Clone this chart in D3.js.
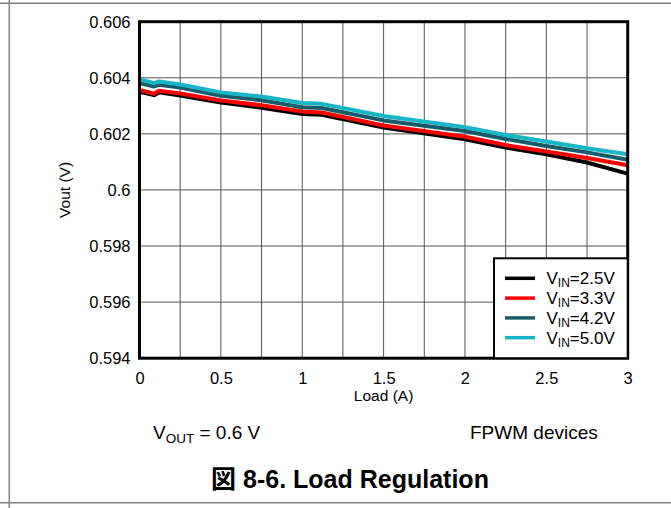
<!DOCTYPE html>
<html>
<head>
<meta charset="utf-8">
<script src="https://cdn.jsdelivr.net/npm/d3@7"></script>
<style>
  html, body { margin: 0; padding: 0; background: #fff; }
  svg { display: block; }
  text { font-family: "Liberation Sans", Arial, sans-serif; fill: #000; }
</style>
</head>
<body>
<svg id="chart" width="671" height="508"></svg>
<script>
// ---- data ----
const load = [0.0, 0.09, 0.12, 0.25, 0.5, 0.75, 1.0, 1.12, 1.5, 2.0, 2.25, 2.5, 2.75, 3.0];
const vin25 = [0.60350, 0.60338, 0.60348, 0.60337, 0.60312, 0.60293, 0.60271, 0.60268, 0.60223, 0.60181, 0.60151, 0.60127, 0.60098, 0.60058];
const vin33 = [0.60357, 0.60343, 0.60354, 0.60344, 0.60319, 0.60302, 0.60280, 0.60276, 0.60230, 0.60190, 0.60160, 0.60137, 0.60114, 0.60088];
const vin42 = [0.60381, 0.60369, 0.60375, 0.60365, 0.60336, 0.60320, 0.60295, 0.60292, 0.60248, 0.60210, 0.60182, 0.60157, 0.60134, 0.60108];
const vin50 = [0.60395, 0.60381, 0.60387, 0.60376, 0.60348, 0.60333, 0.60310, 0.60307, 0.60264, 0.60224, 0.60196, 0.60173, 0.60149, 0.60127];
const seriesNames = ["2.5V", "3.3V", "4.2V", "5.0V"];
const xTicks = [0, 0.5, 1, 1.5, 2, 2.5, 3];
const xTickLabels = ["0", "0.5", "1", "1.5", "2", "2.5", "3"];
const yTicks = [0.594, 0.596, 0.598, 0.6, 0.602, 0.604, 0.606];
const yTickLabels = ["0.594", "0.596", "0.598", "0.6", "0.602", "0.604", "0.606"];
const xGrid = d3.range(0, 3.0001, 0.25);

const series = [
  { name: seriesNames[0], values: vin25, color: "#000000" },
  { name: seriesNames[1], values: vin33, color: "#ff0000" },
  { name: seriesNames[2], values: vin42, color: "#175a68" },
  { name: seriesNames[3], values: vin50, color: "#17b6c6" }
];

// ---- layout ----
const svg = d3.select("#chart");
const L = 139.5, R = 627.7, T = 21.7, B = 358.2;
const x = d3.scaleLinear().domain([0, 3]).range([L, R]);
const y = d3.scaleLinear().domain([0.594, 0.606]).range([B, T]);

// outer frame
svg.append("line").attr("x1", 0).attr("x2", 671).attr("y1", 3.3).attr("y2", 3.3)
  .attr("stroke", "#808080").attr("stroke-width", 1.5);
svg.append("line").attr("x1", 0).attr("x2", 671).attr("y1", 502.7).attr("y2", 502.7)
  .attr("stroke", "#808080").attr("stroke-width", 1.5);
svg.append("line").attr("x1", 9.3).attr("x2", 9.3).attr("y1", 0).attr("y2", 508)
  .attr("stroke", "#808080").attr("stroke-width", 1.5);

// grid
const g = svg.append("g");
g.selectAll("line.vg").data(xGrid).join("line")
  .attr("x1", d => x(d)).attr("x2", d => x(d)).attr("y1", T).attr("y2", B)
  .attr("stroke", "#555").attr("stroke-width", 1);
g.selectAll("line.hg").data(yTicks).join("line")
  .attr("x1", L).attr("x2", R).attr("y1", d => y(d)).attr("y2", d => y(d))
  .attr("stroke", "#555").attr("stroke-width", 1);

// axes (labels only)
const yAxis = d3.axisLeft(y).tickValues(yTicks).tickSize(0).tickPadding(9)
  .tickFormat((d, i) => yTickLabels[i]);
const ya = svg.append("g").attr("transform", `translate(${L},0)`).call(yAxis);
ya.select(".domain").remove();
ya.selectAll("text").attr("font-size", 16.5).attr("font-family", "Liberation Sans, Arial, sans-serif")
  .attr("dy", "0.35em").attr("fill", "#000");

const xAxis = d3.axisBottom(x).tickValues(xTicks).tickSize(0).tickPadding(0)
  .tickFormat((d, i) => xTickLabels[i]);
const xa = svg.append("g").attr("transform", `translate(0,${B})`).call(xAxis);
xa.select(".domain").remove();
xa.selectAll("text").attr("font-size", 16.5).attr("font-family", "Liberation Sans, Arial, sans-serif")
  .attr("dy", null).attr("y", 26).attr("fill", "#000");

// axis titles
svg.append("text").attr("x", x(1.5)).attr("y", 401).attr("text-anchor", "middle")
  .attr("font-size", 15.5).text("Load (A)");
svg.append("text").attr("transform", `translate(70,${(T + B) / 2}) rotate(-90)`)
  .attr("text-anchor", "middle").attr("font-size", 15.5).text("Vout (V)");

// lines
const clipId = "plotclip";
svg.append("clipPath").attr("id", clipId).append("rect")
  .attr("x", L).attr("y", T).attr("width", R - L).attr("height", B - T);
const line = d3.line().x((d, i) => x(load[i])).y(d => y(d));
svg.append("g").attr("clip-path", `url(#${clipId})`)
  .selectAll("path").data(series).join("path")
  .attr("d", s => line(s.values))
  .attr("fill", "none").attr("stroke", s => s.color).attr("stroke-width", 4)
  .attr("stroke-linejoin", "round");

// plot border
svg.append("rect").attr("x", L).attr("y", T).attr("width", R - L).attr("height", B - T)
  .attr("fill", "none").attr("stroke", "#000").attr("stroke-width", 3);

// legend
const lg = svg.append("g");
const lgX = 494, lgY = 258.3;
lg.append("rect").attr("x", lgX).attr("y", lgY).attr("width", R - lgX).attr("height", B - lgY)
  .attr("fill", "#fff").attr("stroke", "#000").attr("stroke-width", 2);
series.forEach((s, i) => {
  const cy = 278.3 + i * 19.8;
  lg.append("line").attr("x1", 505).attr("x2", 535).attr("y1", cy).attr("y2", cy)
    .attr("stroke", s.color).attr("stroke-width", 3.5);
  const t = lg.append("text").attr("x", 546.5).attr("y", cy + 6).attr("font-size", 17);
  t.append("tspan").text("V");
  t.append("tspan").attr("font-size", 12).attr("dy", 3).text("IN");
  t.append("tspan").attr("dy", -3).text("=" + s.name);
});

// notes
const n1 = svg.append("text").attr("x", 153).attr("y", 439).attr("font-size", 19);
n1.append("tspan").text("V");
n1.append("tspan").attr("font-size", 13.5).attr("dy", 4).text("OUT");
n1.append("tspan").attr("dy", -4).text(" = 0.6 V");
svg.append("text").attr("x", 470).attr("y", 439).attr("font-size", 19).text("FPWM devices");

// caption
const cap = svg.append("text").attr("x", 350).attr("y", 488).attr("text-anchor", "middle")
  .attr("font-size", 25).attr("font-weight", "bold");
cap.append("tspan").attr("font-family", "Noto Sans CJK JP").text("図");
cap.append("tspan").text(" 8-6. Load Regulation");
</script>
</body>
</html>
